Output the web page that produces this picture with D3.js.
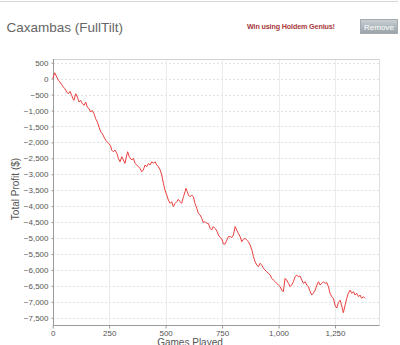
<!DOCTYPE html>
<html>
<head>
<meta charset="utf-8">
<script src="https://cdn.jsdelivr.net/npm/d3@7"></script>
<style>
  html, body { margin: 0; padding: 0; background: #fff; }
  svg { display: block; font-family: "Liberation Sans", Arial, sans-serif; }
</style>
</head>
<body>
<svg id="chart" width="400" height="345"></svg>
<script>
// Cumulative session results: games played and running profit in dollars
const games = [
  0, 9, 18, 25, 32, 40, 47, 54, 62, 69, 77, 84, 91, 94, 102, 109, 117, 124, 131, 139,
  146, 153, 161, 168, 175, 183, 190, 198, 205, 213, 220, 227, 235, 242, 249, 257, 261, 268, 276, 284,
  291, 298, 306, 313, 320, 328, 332, 339, 350, 357, 365, 372, 379, 387, 394, 401, 409, 416, 424, 431,
  439, 446, 453, 461, 468, 476, 483, 490, 497, 505, 512, 520, 527, 534, 542, 549, 556, 564, 571, 579,
  586, 590, 596, 601, 608, 616, 623, 630, 638, 645, 653, 660, 667, 675, 682, 689, 697, 704, 711, 719,
  727, 734, 741, 749, 756, 763, 771, 778, 786, 793, 800, 808, 815, 822, 830, 837, 844, 852, 859, 867,
  874, 882, 889, 896, 904, 911, 918, 926, 933, 940, 948, 955, 963, 970, 977, 985, 992, 999, 1007, 1014,
  1021, 1029, 1036, 1044, 1051, 1058, 1066, 1073, 1081, 1088, 1095, 1103, 1110, 1118, 1125, 1132, 1140, 1147, 1154, 1162,
  1170, 1177, 1184, 1192, 1199, 1206, 1214, 1221, 1228, 1236, 1243, 1251, 1258, 1265, 1273, 1280, 1287, 1295, 1302, 1309,
  1317, 1324, 1332, 1339, 1346, 1354, 1361, 1368, 1376, 1383
];
const profit = [
  0, 185, 50, -53, -107, -191, -264, -317, -420, -474, -398, -524, -649, -681, -474, -577, -734, -681, -787, -838,
  -734, -891, -944, -1048, -994, -1101, -1258, -1361, -1518, -1675, -1728, -1832, -1936, -1989, -2042, -2114, -2240, -2293, -2240, -2343,
  -2500, -2607, -2450, -2553, -2657, -2397, -2293, -2450, -2553, -2500, -2657, -2710, -2763, -2814, -2921, -2867, -2710, -2763, -2657, -2710,
  -2607, -2657, -2607, -2710, -2763, -2867, -3024, -3284, -3495, -3651, -3808, -3912, -3862, -4018, -3912, -3862, -3786, -3862, -3912, -3705,
  -3548, -3441, -3548, -3651, -3705, -3651, -3705, -3912, -4069, -4226, -4279, -4382, -4514, -4489, -4539, -4539, -4696, -4749, -4641, -4702,
  -4781, -4906, -4985, -5032, -5189, -5189, -5065, -4959, -4953, -4985, -4906, -4640, -4749, -4853, -4959, -5117, -5041, -5010, -5063, -5117,
  -5220, -5377, -5587, -5744, -5847, -5901, -5794, -5847, -5951, -6004, -6058, -6108, -6161, -6265, -6318, -6371, -6421, -6475, -6528, -6632,
  -6685, -6265, -6318, -6421, -6528, -6475, -6371, -6214, -6161, -6214, -6192, -6318, -6421, -6371, -6475, -6528, -6685, -6789, -6735, -6632,
  -6475, -6371, -6475, -6421, -6371, -6421, -6403, -6528, -6735, -6842, -6892, -7133, -7196, -7030, -6950, -7133, -7343, -7100, -6892, -6735,
  -6632, -6735, -6685, -6789, -6735, -6842, -6789, -6892, -6842, -6892
];

const xTicks = [0, 250, 500, 750, 1000, 1250];
const yTicks = [500, 0, -500, -1000, -1500, -2000, -2500, -3000, -3500, -4000,
                -4500, -5000, -5500, -6000, -6500, -7000, -7500];

const svg = d3.select("#chart");
const fmt = d3.format(",");

// plot frame
const plotL = 53, plotR = 379.5, plotT = 59, plotB = 325;

const x = d3.scaleLinear().domain([0, 1250]).range([52.7, 335]);
const y = d3.scaleLinear().domain([500, -7500]).range([62.7, 317.7]);

// page header rule
svg.append("line").attr("x1", 0).attr("x2", 398).attr("y1", 1.5).attr("y2", 1.5)
  .attr("stroke", "#d8d8d8").attr("stroke-width", 1);

// title
svg.append("text").attr("x", 6.5).attr("y", 31.5)
  .attr("font-size", 13.5).attr("fill", "#666").text("Caxambas (FullTilt)");

svg.append("text").attr("x", 247).attr("y", 28.5)
  .attr("font-size", 7.2).attr("fill", "#a83a3a").attr("font-weight", "bold")
  .attr("textLength", 88).text("Win using Holdem Genius!");

// button
const grad = svg.append("defs").append("linearGradient")
  .attr("id", "btn").attr("x1", 0).attr("x2", 0).attr("y1", 0).attr("y2", 1);
grad.append("stop").attr("offset", "0%").attr("stop-color", "#c9d0d4");
grad.append("stop").attr("offset", "100%").attr("stop-color", "#98a3a9");
svg.append("rect").attr("x", 360.5).attr("y", 19.5).attr("width", 37).attr("height", 14)
  .attr("fill", "url(#btn)").attr("stroke", "#a3abb0");
svg.append("text").attr("x", 379).attr("y", 29.5).attr("text-anchor", "middle")
  .attr("font-size", 8).attr("fill", "#fff").text("Remove");

// grid
const g = svg.append("g");
g.selectAll("line.hg").data(yTicks).join("line")
  .attr("x1", plotL).attr("x2", plotR)
  .attr("y1", d => Math.round(y(d)) + 0.5).attr("y2", d => Math.round(y(d)) + 0.5)
  .attr("stroke", "#e2e2e2").attr("stroke-dasharray", "2,2");
g.selectAll("line.vg").data(xTicks.slice(1)).join("line")
  .attr("y1", plotT).attr("y2", plotB)
  .attr("x1", d => Math.round(x(d)) + 0.5).attr("x2", d => Math.round(x(d)) + 0.5)
  .attr("stroke", "#ebebeb");

// frame top / right
svg.append("line").attr("x1", plotL).attr("x2", plotR).attr("y1", plotT + 0.5).attr("y2", plotT + 0.5)
  .attr("stroke", "#d2d2d2");
svg.append("line").attr("x1", plotR).attr("x2", plotR).attr("y1", plotT).attr("y2", plotB)
  .attr("stroke", "#e0e0e0");

// axes
const yAxis = svg.append("g").attr("transform", `translate(${plotL + 0.5},0)`)
  .call(d3.axisLeft(y).tickValues(yTicks).tickFormat(fmt).tickSize(2).tickPadding(3));
const xAxis = svg.append("g").attr("transform", `translate(0,${plotB + 0.5})`)
  .call(d3.axisBottom(x).tickValues(xTicks).tickFormat(fmt).tickSize(3).tickPadding(1.5));
[yAxis, xAxis].forEach(a => {
  a.select(".domain").attr("stroke", "#999");
  a.selectAll(".tick line").attr("stroke", "#999");
  a.selectAll(".tick text").attr("fill", "#555").attr("font-size", 8)
    .attr("font-family", "'Liberation Sans', Arial, sans-serif");
});
yAxis.select(".domain").attr("d", `M0,${plotT}V${plotB}`);
xAxis.select(".domain").attr("d", `M${plotL},0H${plotR}`);

// axis titles
svg.append("text").attr("transform", "translate(19,189) rotate(-90)")
  .attr("text-anchor", "middle").attr("font-size", 10).attr("fill", "#555")
  .text("Total Profit ($)");
svg.append("text").attr("x", 190).attr("y", 345.5).attr("text-anchor", "middle")
  .attr("font-size", 10).attr("fill", "#555").text("Games Played");

// profit line
const pts = games.map((d, i) => [d, profit[i]]);
svg.append("path").datum(pts)
  .attr("fill", "none").attr("stroke", "#e9403f").attr("stroke-width", 1)
  .attr("stroke-linejoin", "round")
  .attr("d", d3.line().x(d => x(d[0])).y(d => y(d[1])));
</script>
</body>
</html>
